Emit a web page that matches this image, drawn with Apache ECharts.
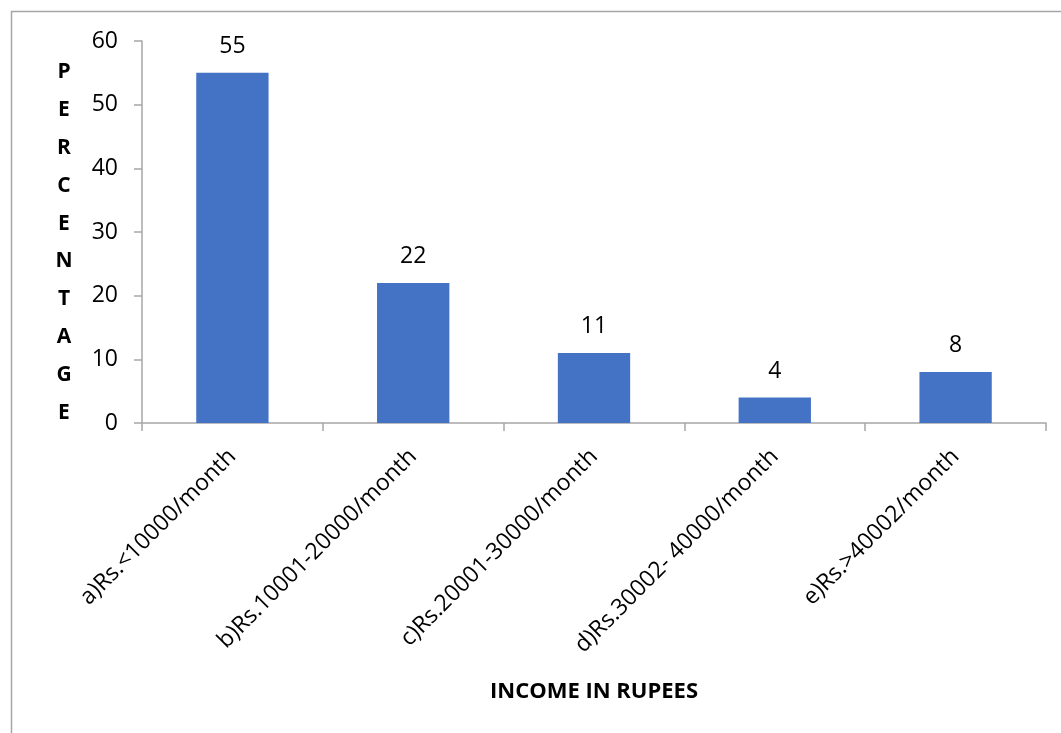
<!DOCTYPE html>
<html>
<head>
<meta charset="utf-8">
<script src="https://cdn.jsdelivr.net/npm/echarts@6/dist/echarts.min.js"></script>
<style>
  html, body { margin: 0; padding: 0; background: #fff; }
  #chart { width: 1061px; height: 733px; }
</style>
</head>
<body>
<div id="chart"></div>
<script>
// Income brackets and share of respondents (%)
const categories = [
  'a)Rs.<10000/month',
  'b)Rs.10001-20000/month',
  'c)Rs.20001-30000/month',
  'd)Rs.30002- 40000/month',
  'e)Rs.>40002/month'
];
const percentages = [55, 22, 11, 4, 8];
const yTitleLetters = ['P', 'E', 'R', 'C', 'E', 'N', 'T', 'A', 'G', 'E'];
const xTitle = 'INCOME IN RUPEES';

const FONT = '"Open Sans", Lato, sans-serif';
const AXIS_GRAY = '#a6a6a6';

const chart = echarts.init(document.getElementById('chart'), null, { renderer: 'canvas' });

chart.setOption({
  backgroundColor: '#ffffff',
  animation: false,
  graphic: [
    {
      // outer frame
      type: 'rect',
      shape: { x: 11.5, y: 11.5, width: 1060, height: 740 },
      style: { fill: 'none', stroke: AXIS_GRAY, lineWidth: 1.5 },
      silent: true
    },
    {
      // stacked vertical axis title
      type: 'text',
      x: 64, y: 53,
      style: {
        text: yTitleLetters.join('\n'),
        fill: '#000',
        font: 'bold 21px ' + FONT,
        lineHeight: 37.9,
        textAlign: 'center',
        textVerticalAlign: 'top'
      },
      silent: true
    }
  ],
  grid: { left: 142, right: 15, top: 41, bottom: 310, containLabel: false },
  xAxis: {
    type: 'category',
    data: categories,
    boundaryGap: true,
    axisLine: { show: true, lineStyle: { color: AXIS_GRAY, width: 1.5 } },
    axisTick: { show: true, alignWithLabel: false, length: 8, lineStyle: { color: AXIS_GRAY, width: 1.5 } },
    axisLabel: {
      rotate: 45, interval: 0, margin: 30,
      color: '#000', fontFamily: FONT, fontSize: 23
    },
    name: xTitle,
    nameLocation: 'middle',
    nameGap: 258,
    nameTextStyle: { color: '#000', fontFamily: FONT, fontSize: 22, fontWeight: 'bold' }
  },
  yAxis: {
    type: 'value',
    min: 0, max: 60, interval: 10,
    splitLine: { show: false },
    axisLine: { show: true, lineStyle: { color: AXIS_GRAY, width: 1.5 } },
    axisTick: { show: true, length: 8, lineStyle: { color: AXIS_GRAY, width: 1.5 } },
    axisLabel: { color: '#000', fontFamily: FONT, fontSize: 23, margin: 24 }
  },
  series: [{
    type: 'bar',
    data: percentages,
    barWidth: '40%',
    itemStyle: { color: '#4472C4' },
    label: {
      show: true, position: 'top', distance: 15,
      color: '#000', fontFamily: FONT, fontSize: 23
    }
  }]
});
</script>
</body>
</html>
